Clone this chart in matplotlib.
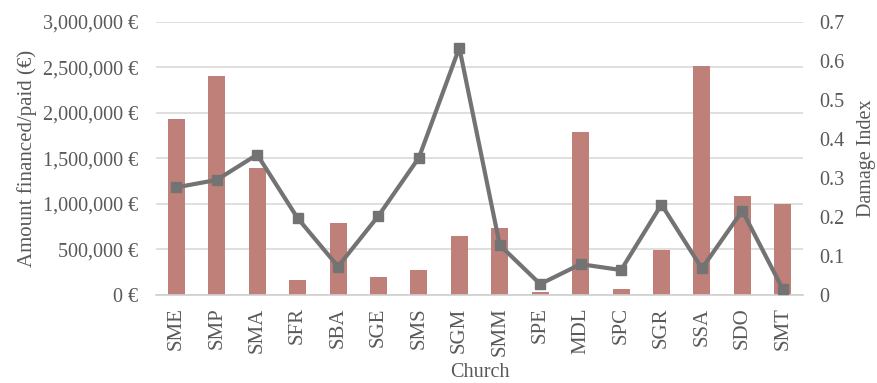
import matplotlib
matplotlib.use("Agg")
import matplotlib.pyplot as plt
from matplotlib.ticker import FuncFormatter, MultipleLocator

churches = ["SME", "SMP", "SMA", "SFR", "SBA", "SGE", "SMS", "SGM", "SMM", "SPE",
            "MDL", "SPC", "SGR", "SSA", "SDO", "SMT"]
amount = [1930000, 2405000, 1395000, 160000, 795000, 198000, 270000, 650000, 738000, 35000,
          1795000, 65000, 495000, 2520000, 1090000, 1000000]
damage = [0.276, 0.295, 0.360, 0.197, 0.073, 0.203, 0.352, 0.634, 0.128, 0.028,
          0.079, 0.064, 0.232, 0.068, 0.216, 0.015]

plt.rcParams['font.family'] = ['Liberation Serif', 'DejaVu Serif']
txt = '#595959'

fig = plt.figure(figsize=(8.77, 3.83), dpi=100)
ax = fig.add_axes([0.178, 0.2298, 0.7376, 0.7128])
x = list(range(len(churches)))
ax.bar(x, amount, width=0.42, color='#c0807a', zorder=2)
ax.set_xlim(-0.5, len(churches) - 0.5)
ax.set_ylim(0, 3000000)
ax.yaxis.set_major_locator(MultipleLocator(500000))
ax.yaxis.set_major_formatter(FuncFormatter(lambda v, p: f"{int(v):,} €"))
ax.grid(axis='y', color='#d9d9d9', linewidth=1.2, zorder=0)
ax.set_axisbelow(True)
for s in ['top', 'left', 'right']:
    ax.spines[s].set_visible(False)
ax.spines['bottom'].set_color('#d0d0d0')
ax.spines['bottom'].set_linewidth(1.2)
ax.set_xticks(x)
ax.set_xticklabels(churches, rotation=90)
ax.tick_params(axis='x', length=0, labelsize=15, colors=txt, pad=9)
ax.tick_params(axis='y', length=0, labelsize=14.5, colors=txt, pad=13)
ax.set_ylabel("Amount financed/paid (€)", fontsize=15, color=txt, labelpad=4)
ax.set_xlabel("Church", fontsize=14.5, color=txt, labelpad=5)

ax2 = ax.twinx()
ax2.plot(x, damage, color='#737373', linewidth=3, marker='s', markersize=6.5, zorder=3)
ax2.set_ylim(0, 0.7)
ax2.yaxis.set_major_locator(MultipleLocator(0.1))
ax2.yaxis.set_major_formatter(FuncFormatter(lambda v, p: "0" if abs(v) < 1e-9 else f"{v:.1f}"))
for s in ['top', 'left', 'right', 'bottom']:
    ax2.spines[s].set_visible(False)
ax2.tick_params(axis='y', length=0, labelsize=14.5, colors=txt, pad=12)
ax2.set_ylabel("Damage Index", fontsize=14.5, color=txt, labelpad=9)

fig.savefig("out.png", dpi=100)
